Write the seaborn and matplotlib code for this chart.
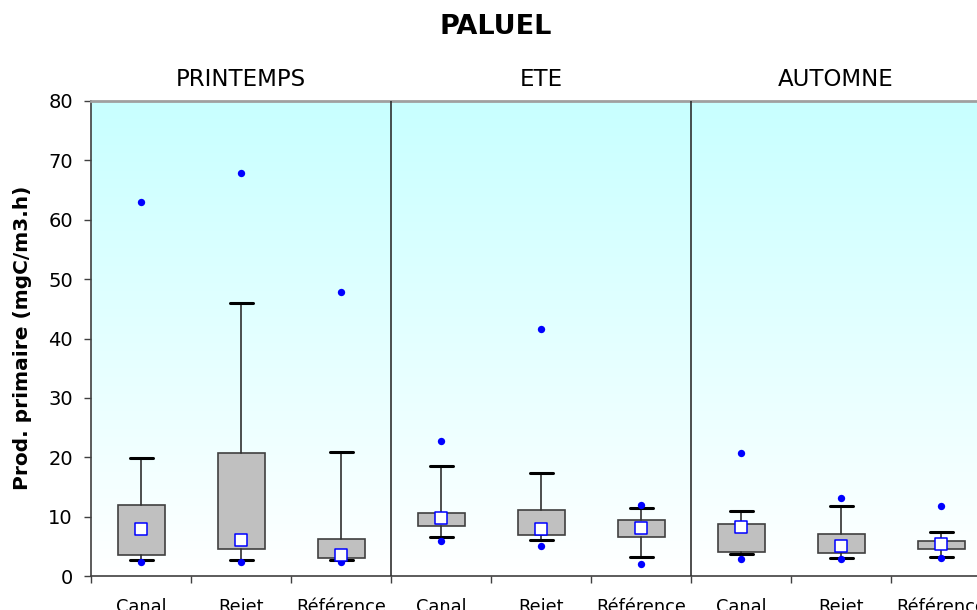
import numpy as np
import pandas as pd
import matplotlib
matplotlib.use("Agg")
import matplotlib.pyplot as plt
import matplotlib.transforms as mtransforms
from matplotlib.colors import LinearSegmentedColormap
import seaborn as sns

# Seasons (panels) and sampling sites (boxes within each panel)
seasons = ["PRINTEMPS", "ETE", "AUTOMNE"]
sites = ["Canal", "Rejet", "Référence"]

# Summary statistics per box, in order PRINTEMPS (Canal, Rejet, Référence), ETE, AUTOMNE
low_dot = [2.4, 2.4, 2.4, 5.9, 5.0, 2.1, 2.8, 2.8, 3.0]
whisk_lo = [2.75, 2.75, 2.75, 6.6, 6.05, 3.2, 3.75, 3.0, 3.2]
q1 = [3.5, 4.5, 3.1, 8.4, 6.95, 6.5, 4.1, 3.9, 4.5]
q3 = [12.0, 20.8, 6.2, 10.6, 11.2, 9.4, 8.8, 7.1, 5.95]
whisk_hi = [19.8, 45.9, 20.9, 18.5, 17.3, 11.5, 11.0, 11.8, 7.45]
high_dot = [63.0, 67.8, 47.9, 22.8, 41.6, 12.0, 20.7, 13.2, 11.8]
mean = [7.9, 6.1, 3.6, 9.7, 7.9, 8.1, 8.3, 5.0, 5.4]

y_ticks = list(range(0, 81, 10))

sns.set_style("ticks")
plt.rcParams["font.family"] = ["DejaVu Sans"]
plt.rcParams["text.color"] = "black"
plt.rcParams["xtick.labelcolor"] = "black"
plt.rcParams["ytick.labelcolor"] = "black"

W, H = 978, 610
fig = plt.figure(figsize=(W / 100, H / 100), dpi=100)
ax = fig.add_axes([91 / W, 34 / H, 900 / W, 475 / H])

n = len(seasons) * len(sites)
pos = np.arange(n)
labels = sites * len(seasons)

# Vertical background gradient: white at the bottom, pale cyan at the top
cmap = LinearSegmentedColormap.from_list("bg", ["#ffffff", "#c8ffff"])
grad = np.linspace(0, 1, 256).reshape(-1, 1)
ax.imshow(grad, extent=(-0.5, n - 0.5, 0, 80), origin="lower", cmap=cmap,
          aspect="auto", zorder=0)

# Boxes with whiskers and caps
stats = [dict(med=m, q1=a, q3=b, whislo=lo, whishi=hi, mean=m, fliers=[])
         for m, a, b, lo, hi in zip(mean, q1, q3, whisk_lo, whisk_hi)]
ax.bxp(stats, positions=pos, widths=0.47, capwidths=0.23, patch_artist=True,
       showmeans=False, showfliers=False, manage_ticks=False,
       boxprops=dict(facecolor="#c0c0c0", edgecolor="#404040", linewidth=1.2),
       whiskerprops=dict(color="#303030", linewidth=1.2),
       capprops=dict(color="black", linewidth=2.2),
       medianprops=dict(visible=False), zorder=2)

# Extreme values as blue dots
dots = pd.DataFrame({"pos": np.concatenate([pos, pos]),
                     "value": low_dot + high_dot})
sns.scatterplot(data=dots, x="pos", y="value", color="#0000ff", s=28,
                linewidth=0, zorder=4, ax=ax)

# Means as open squares
means = pd.DataFrame({"pos": pos, "mean": mean})
sns.scatterplot(data=means, x="pos", y="mean", marker="s", s=72, color="white",
                edgecolor="#0000ff", linewidth=1.1, zorder=5, ax=ax)

ax.set_xlabel("")
ax.set_ylabel("")
ax.set_xlim(-0.5, n - 0.5)
ax.set_ylim(0, 80)
ax.set_yticks(y_ticks)
ax.set_xticks(pos)
ax.set_xticklabels(labels)
ax.set_xticks(np.arange(-0.5, n, 1), minor=True)
ax.tick_params(axis="x", which="major", length=0, pad=16, labelsize=12.8)
ax.tick_params(axis="x", which="minor", length=5, width=1, color="#404040",
               direction="out")
ax.tick_params(axis="y", length=5, width=1, color="#404040", pad=8,
               labelsize=14)

# Season separators
for xsep in (2.5, 5.5):
    ax.axvline(xsep, color="#303030", lw=1.2, zorder=3)

# Season titles above each panel
trans = mtransforms.blended_transform_factory(ax.transData, ax.transAxes)
for xc, s in zip([1.0, 4.0, 6.95], seasons):
    ax.text(xc, 1.046, s, transform=trans, ha="center", va="center",
            fontsize=16.5)

for side in ("left", "bottom"):
    ax.spines[side].set_color("#404040")
    ax.spines[side].set_linewidth(1.2)
ax.spines["top"].set_visible(True)
ax.spines["top"].set_color("#a0a0a0")
ax.spines["top"].set_linewidth(2)
ax.spines["right"].set_visible(False)

fig.text(496 / W, 1 - 27 / H, "PALUEL", ha="center", va="center",
         fontsize=19.5, fontweight="bold")
fig.text(23 / W, 1 - 338 / H, "Prod. primaire (mgC/m3.h)", rotation=90,
         ha="center", va="center", fontsize=14.5, fontweight="bold")

fig.savefig("out.png", dpi=100)
